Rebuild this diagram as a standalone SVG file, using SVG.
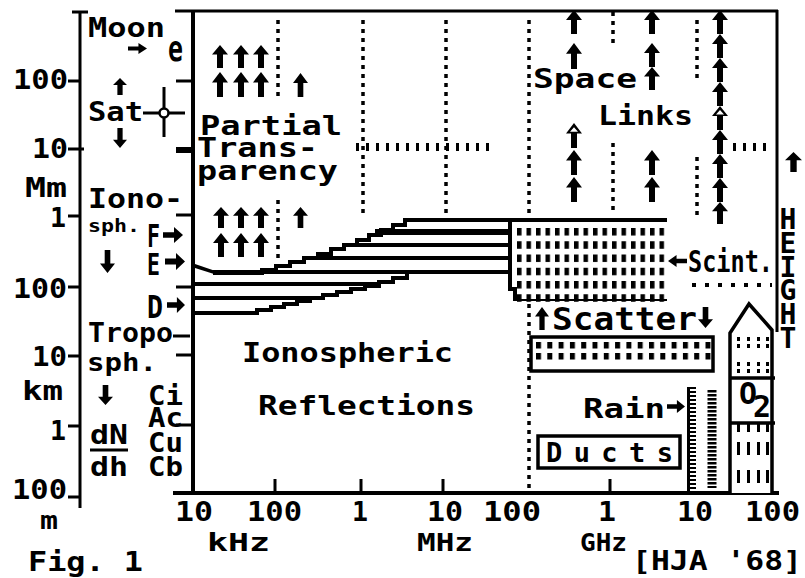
<svg xmlns="http://www.w3.org/2000/svg" width="805" height="578" viewBox="0 0 805 578">
<defs>
<style>
.t{font-family:"DejaVu Sans Mono","Liberation Mono",monospace;font-weight:bold;font-size:27px;fill:#000}
.k{stroke:#000;fill:none}
.dv{stroke:#000;stroke-width:3.5;stroke-dasharray:4 5;fill:none}
.v{writing-mode:vertical-rl;text-orientation:upright;font-size:28px}
.u{font-size:25px}
</style>
<symbol id="ua" viewBox="0 0 16 24" preserveAspectRatio="none"><path d="M8 0L16 10H11V24H5V10H0Z"/></symbol>
<symbol id="uo" viewBox="0 0 16 24" preserveAspectRatio="none"><path fill-rule="evenodd" d="M8 0L16 10H11V24H5V10H0Z M8 4L12 8.5H4Z"/></symbol>
<symbol id="da" viewBox="0 0 16 24" preserveAspectRatio="none"><path d="M8 24L16 14H11V0H5V14H0Z"/></symbol>
<symbol id="ra" viewBox="0 0 20 14" preserveAspectRatio="none"><path d="M20 7L11 0V4.5H0V9.5H11V14Z"/></symbol>
<symbol id="la" viewBox="0 0 20 14" preserveAspectRatio="none"><path d="M0 7L9 0V4.5H20V9.5H9V14Z"/></symbol>
<pattern id="pg" x="517" y="228" width="9.5" height="13.25" patternUnits="userSpaceOnUse"><rect width="4.5" height="7.5"/></pattern>
<pattern id="ps" x="536" y="342" width="11.3" height="11" patternUnits="userSpaceOnUse"><rect width="5" height="6.5"/></pattern>
</defs>
<rect width="805" height="578" fill="#fff"/>

<g id="frame" class="k">
<path d="M175 11H778" stroke-width="3"/>
<path d="M193 10V495" stroke-width="4"/>
<path d="M777 10V332" stroke-width="3"/>
<path d="M173 493H779" stroke-width="4"/>
<path d="M176 81H193M176 215H193M176 287H193M176 355H193M176 425H193M173 336H190" stroke-width="3"/>
<path d="M176 150H193" stroke-width="6"/>
<path d="M275 479V493M361 479V493M443 479V493M610 479V493" stroke-width="3"/>
</g>

<g id="height-axis">
<path class="k" stroke-width="3" d="M80 12V508M72 12H88M68 81H80M68 149H84M68 216H80M68 287H80M68 356H80M68 426H80M68 497H80"/>
<text class="t" x="13" y="89" textLength="55" lengthAdjust="spacingAndGlyphs">100</text>
<text class="t" x="32" y="158" textLength="36" lengthAdjust="spacingAndGlyphs">10</text>
<text class="t" x="25" y="197" textLength="42" lengthAdjust="spacingAndGlyphs">Mm</text>
<text class="t" x="50" y="227" textLength="16" lengthAdjust="spacingAndGlyphs">1</text>
<text class="t" x="13" y="298" textLength="54" lengthAdjust="spacingAndGlyphs">100</text>
<text class="t" x="32" y="366" textLength="35" lengthAdjust="spacingAndGlyphs">10</text>
<text class="t" x="22" y="400" textLength="41" lengthAdjust="spacingAndGlyphs">km</text>
<text class="t" x="50" y="440" textLength="16" lengthAdjust="spacingAndGlyphs">1</text>
<text class="t" x="12" y="499" textLength="55" lengthAdjust="spacingAndGlyphs">100</text>
<text class="t" x="40" y="529" textLength="18" lengthAdjust="spacingAndGlyphs" style="font-size:24px">m</text>
<text class="t" x="28" y="571" textLength="115" lengthAdjust="spacingAndGlyphs">Fig. 1</text>
</g>

<g id="moon">
<text class="t" x="88" y="37" textLength="77" lengthAdjust="spacingAndGlyphs">Moon</text>
<use href="#ra" x="128" y="43" width="19" height="11"/>
<text class="t" x="168" y="61" textLength="15" lengthAdjust="spacingAndGlyphs" style="font-size:36px">e</text>
</g>

<g id="sat">
<use href="#ua" x="113" y="78" width="14" height="17"/>
<text class="t" x="88" y="121" textLength="55" lengthAdjust="spacingAndGlyphs">Sat</text>
<use href="#da" x="113" y="128" width="14" height="20"/>
<path class="k" stroke-width="3" d="M143 113H185M164 87V137"/>
<circle cx="164" cy="113" r="4.5" fill="#fff" stroke="#000" stroke-width="2.5"/>
</g>

<g id="ionosphere-labels">
<text class="t" x="88" y="208" textLength="95" lengthAdjust="spacingAndGlyphs">Iono-</text>
<text class="t" x="88" y="232" textLength="52" lengthAdjust="spacingAndGlyphs" style="font-size:18px">sph.</text>
<use href="#da" x="100" y="250" width="15" height="23"/>
<text class="t" x="147" y="247" textLength="13" lengthAdjust="spacingAndGlyphs" style="font-size:32px">F</text>
<text class="t" x="147" y="275" textLength="13" lengthAdjust="spacingAndGlyphs" style="font-size:30px">E</text>
<text class="t" x="147" y="318" textLength="16" lengthAdjust="spacingAndGlyphs" style="font-size:32px">D</text>
<use href="#ra" x="163" y="227" width="20" height="16"/>
<use href="#ra" x="165" y="253" width="20" height="17"/>
<use href="#ra" x="167" y="297" width="18" height="16"/>
</g>

<g id="troposphere-labels">
<text class="t" x="88" y="342" textLength="85" lengthAdjust="spacingAndGlyphs" style="font-size:26px">Tropo</text>
<text class="t" x="87" y="371" textLength="70" lengthAdjust="spacingAndGlyphs" style="font-size:24px">sph.</text>
<use href="#da" x="98" y="385" width="15" height="20"/>
<text class="t" x="90" y="444" textLength="38" lengthAdjust="spacingAndGlyphs">dN</text>
<path class="k" stroke-width="3" d="M90 450H128"/>
<text class="t" x="90" y="476" textLength="38" lengthAdjust="spacingAndGlyphs">dh</text>
<text class="t" x="148" y="405" textLength="35" lengthAdjust="spacingAndGlyphs">Ci</text>
<text class="t" x="148" y="427" textLength="35" lengthAdjust="spacingAndGlyphs">Ac</text>
<text class="t" x="148" y="452" textLength="35" lengthAdjust="spacingAndGlyphs">Cu</text>
<text class="t" x="148" y="476" textLength="35" lengthAdjust="spacingAndGlyphs">Cb</text>
</g>

<g id="frequency-axis">
<text class="t" x="175" y="521" textLength="38" lengthAdjust="spacingAndGlyphs">10</text>
<text class="t" x="247" y="521" textLength="55" lengthAdjust="spacingAndGlyphs">100</text>
<text class="t" x="352" y="521" textLength="16" lengthAdjust="spacingAndGlyphs">1</text>
<text class="t" x="427" y="521" textLength="36" lengthAdjust="spacingAndGlyphs">10</text>
<text class="t" x="483" y="521" textLength="58" lengthAdjust="spacingAndGlyphs">100</text>
<text class="t" x="598" y="521" textLength="18" lengthAdjust="spacingAndGlyphs">1</text>
<text class="t" x="677" y="521" textLength="36" lengthAdjust="spacingAndGlyphs">10</text>
<text class="t" x="745" y="521" textLength="55" lengthAdjust="spacingAndGlyphs">100</text>
<text class="t u" x="207" y="551" textLength="63" lengthAdjust="spacingAndGlyphs">kHz</text>
<text class="t u" x="417" y="551" textLength="56" lengthAdjust="spacingAndGlyphs">MHz</text>
<text class="t u" x="580" y="551" textLength="47" lengthAdjust="spacingAndGlyphs">GHz</text>
<text class="t" x="632" y="570" textLength="170" lengthAdjust="spacingAndGlyphs">[HJA '68]</text>
</g>

<g id="connectors">
<path class="dv" d="M278 20V100M278 200V262M363 20V215M446 20V215M529 20V215M529 304V493M613 12V47M613 143V215M697 20V80M697 157V215"/>
<path class="k" stroke-width="8" stroke-dasharray="3 7" d="M356 147H493M733 147H772"/>
<path class="k" stroke-width="4" stroke-dasharray="4 9" d="M692 285H772"/>
</g>

<g id="partial-transparency">
<use href="#ua" x="212" y="45" width="16" height="23"/>
<use href="#ua" x="233" y="45" width="16" height="23"/>
<use href="#ua" x="253" y="45" width="16" height="23"/>
<use href="#ua" x="212" y="72" width="16" height="25"/>
<use href="#ua" x="233" y="72" width="16" height="25"/>
<use href="#ua" x="253" y="72" width="16" height="25"/>
<use href="#ua" x="293" y="73" width="15" height="24"/>
<text class="t" x="200" y="135" textLength="142" lengthAdjust="spacingAndGlyphs">Partial</text>
<text class="t" x="197" y="157" textLength="121" lengthAdjust="spacingAndGlyphs">Trans-</text>
<text class="t" x="197" y="180" textLength="141" lengthAdjust="spacingAndGlyphs">parency</text>
<use href="#ua" x="213" y="207" width="16" height="21"/>
<use href="#ua" x="233" y="207" width="16" height="21"/>
<use href="#ua" x="253" y="207" width="16" height="21"/>
<use href="#ua" x="293" y="207" width="15" height="21"/>
<use href="#ua" x="213" y="233" width="16" height="24"/>
<use href="#ua" x="233" y="233" width="16" height="24"/>
<use href="#ua" x="253" y="233" width="16" height="24"/>
</g>

<g id="space-links">
<use href="#ua" x="566" y="10" width="16" height="24"/>
<use href="#ua" x="566" y="43" width="16" height="26"/>
<use href="#uo" x="566" y="123" width="16" height="25"/>
<use href="#ua" x="566" y="150" width="16" height="25"/>
<use href="#ua" x="566" y="177" width="16" height="25"/>
<use href="#ua" x="644" y="10" width="16" height="24"/>
<use href="#ua" x="644" y="43" width="16" height="24"/>
<use href="#ua" x="644" y="67" width="16" height="23"/>
<use href="#ua" x="644" y="150" width="16" height="25"/>
<use href="#ua" x="644" y="177" width="16" height="25"/>
<use href="#ua" x="712" y="10" width="16" height="24"/>
<use href="#ua" x="712" y="34" width="16" height="24"/>
<use href="#ua" x="712" y="58" width="16" height="24"/>
<use href="#ua" x="712" y="82" width="16" height="24"/>
<use href="#uo" x="712" y="106" width="16" height="24"/>
<use href="#ua" x="712" y="130" width="16" height="24"/>
<use href="#ua" x="712" y="154" width="16" height="24"/>
<use href="#ua" x="712" y="178" width="16" height="24"/>
<use href="#ua" x="712" y="202" width="16" height="22"/>
<text class="t" x="533" y="88" textLength="104" lengthAdjust="spacingAndGlyphs">Space</text>
<text class="t" x="598" y="125" textLength="95" lengthAdjust="spacingAndGlyphs">Links</text>
</g>

<g id="ionosphere-bands" class="k" stroke-width="4">
<path d="M213 273H262V270H276V266H290V262H304V258H318V254H331V249H344V245H357V240H369V235H381V230H393V225H405V220H667"/>
<path d="M375 232H510" stroke-width="6"/>
<path d="M344 245H510M304 258H510M213 272H510"/>
<path d="M510 220V289H515V301"/>
<path d="M193 284H378M193 298H322"/>
<path d="M193 313H257V310H271V307H284V304H297V301H310V298H323V295H337V292H351V289H365V286H379V282H393V278H407V273"/>
<polygon points="195,264 214,270.5 214,274 195,268" fill="#000" stroke="none"/>
</g>

<g id="ionospheric-reflections">
<text class="t" x="242" y="362" textLength="211" lengthAdjust="spacingAndGlyphs">Ionospheric</text>
<text class="t" x="258" y="415" textLength="217" lengthAdjust="spacingAndGlyphs">Reflections</text>
</g>

<g id="scint">
<rect x="517" y="228" width="150" height="74" fill="url(#pg)"/>
<path class="k" stroke-width="2" d="M515 300H667"/>
<use href="#la" x="668" y="255" width="19" height="12"/>
<text class="t" x="688" y="272" textLength="85" lengthAdjust="spacingAndGlyphs" style="font-size:31px">Scint.</text>
</g>

<g id="scatter">
<use href="#ua" x="535" y="307" width="14" height="23"/>
<text class="t" x="552" y="330" textLength="145" lengthAdjust="spacingAndGlyphs" style="font-size:32px">Scatter</text>
<use href="#da" x="698" y="307" width="15" height="21"/>
<rect x="531" y="337" width="182" height="34" fill="none" stroke="#000" stroke-width="3.5"/>
<rect x="536" y="342" width="176" height="18" fill="url(#ps)"/>
</g>

<g id="rain">
<text class="t" x="583" y="418" textLength="82" lengthAdjust="spacingAndGlyphs">Rain</text>
<use href="#ra" x="667" y="400" width="18" height="13"/>
<path class="k" stroke-width="3" d="M688.5 387V493"/>
<path class="k" stroke-width="8" stroke-dasharray="2 2" d="M692 387V493"/>
<path class="k" stroke-width="9" stroke-dasharray="2.5 1.5" d="M712 390V488"/>
</g>

<g id="ducts">
<rect x="538" y="436" width="142" height="32" fill="none" stroke="#000" stroke-width="3.5"/>
<text class="t" x="546" y="462" textLength="127" lengthAdjust="spacing">Ducts</text>
</g>

<g id="o2">
<path d="M730 493V333L749 304L772 330V493" fill="#fff" stroke="#000" stroke-width="3.5"/>
<path class="k" stroke-width="3.5" d="M730 378H775M730 423H775"/>
<path class="k" stroke-width="3" stroke-dasharray="4 3" d="M738.5 337V348M748.5 337V348M758.5 337V348M767.5 337V348M738.5 362V373M748.5 362V373M758.5 362V373M767.5 362V373"/>
<path class="k" stroke-width="3" d="M738.5 423V432M748.5 423V432M758.5 423V432M767.5 423V432M738.5 442V455M748.5 442V455M758.5 442V455M767.5 442V455M738.5 470V483M748.5 470V483M758.5 470V483M767.5 470V483"/>
<text class="t" x="739" y="404" style="font-size:30px">O<tspan x="753" y="417">2</tspan></text>
</g>

<g id="height">
<use href="#ua" x="785" y="152" width="17" height="20"/>
<text class="t v" x="788" y="203" textLength="152" lengthAdjust="spacing">HEIGHT</text>
</g>
</svg>
